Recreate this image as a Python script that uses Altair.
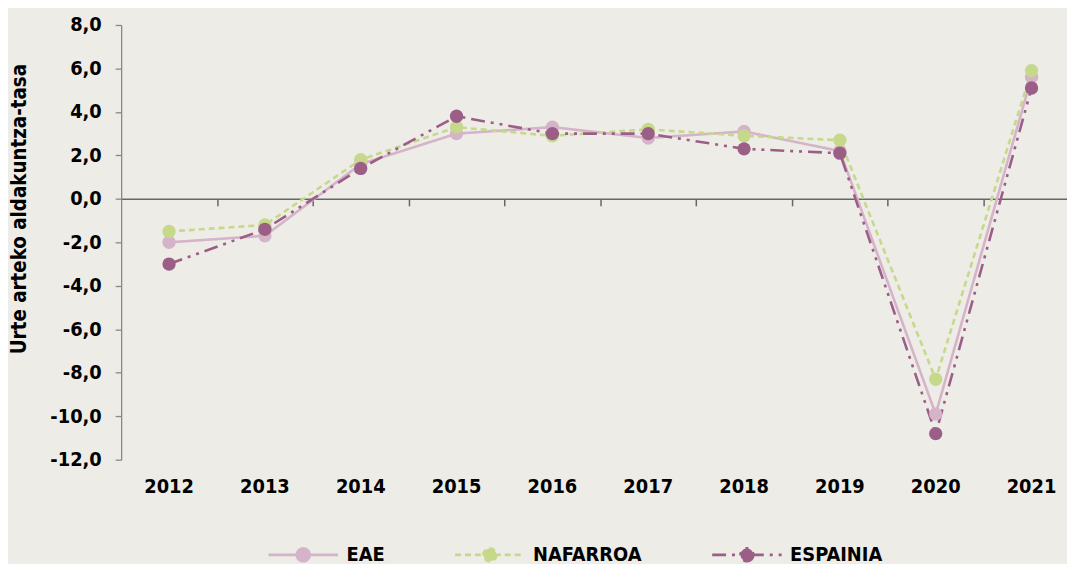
import altair as alt
import pandas as pd

years = [2012, 2013, 2014, 2015, 2016, 2017, 2018, 2019, 2020, 2021]
eae = [-2.0, -1.7, 1.6, 3.0, 3.3, 2.8, 3.1, 2.2, -9.9, 5.6]
nafarroa = [-1.5, -1.2, 1.8, 3.3, 2.9, 3.2, 2.9, 2.7, -8.3, 5.9]
espainia = [-3.0, -1.4, 1.4, 3.8, 3.0, 3.0, 2.3, 2.1, -10.8, 5.1]
series = ["EAE", "NAFARROA", "ESPAINIA"]
colors = ["#d5b3c8", "#c6d98b", "#9b5e86"]
dashes = [[1, 0], [6, 4], [14, 6, 3, 6, 3, 6]]
y_ticks = [-12, -10, -8, -6, -4, -2, 0, 2, 4, 6, 8]
x_ticks = [y + 0.5 for y in years[:-1]]
y_title = "Urte arteko aldakuntza-tasa"

rows = []
for name, vals in zip(series, [eae, nafarroa, espainia]):
    for yr, v in zip(years, vals):
        rows.append({"serie": name, "year": yr, "value": v})
df = pd.DataFrame(rows)
lab = pd.DataFrame({"year": years, "label": [str(y) for y in years]})

FONT = "'DejaVu Sans Condensed', 'DejaVu Sans', sans-serif"
SYM = "M-1,0H1M0.186,0A0.186,0.186,0,1,1,-0.186,0A0.186,0.186,0,1,1,0.186,0Z"

x_enc = alt.X(
    "year:Q",
    scale=alt.Scale(domain=[2011.5, 2021.37], nice=False, zero=False),
    axis=alt.Axis(
        values=x_ticks, labels=False, ticks=True, tickSize=7, tickWidth=1.5,
        tickColor="#666666", domain=True, domainColor="#666666", domainWidth=1.5,
        grid=False, title=None, offset=-262.8,
    ),
)
y_enc = alt.Y(
    "value:Q",
    scale=alt.Scale(domain=[-12, 8], nice=False, zero=False),
    axis=alt.Axis(
        values=y_ticks,
        labelExpr="(datum.value < 0 ? '-' : '') + replace(format(abs(datum.value), '.1f'), '.', ',')",
        title=y_title, titleFont=FONT, titleFontSize=20.5, titleFontWeight="bold",
        titleColor="#000000", titleAngle=270, titleX=-102, titleY=185,
        titleAlign="center", titleBaseline="middle",
        labelFont=FONT, labelFontSize=20, labelFontWeight="bold", labelColor="#000000",
        labelPadding=14, tickSize=6, tickColor="#888888", tickWidth=1.3,
        domainColor="#888888", domainWidth=1.3, grid=False,
    ),
)

base = alt.Chart(df)
lines = base.mark_line(strokeWidth=2.6).encode(
    x=x_enc, y=y_enc,
    stroke=alt.Stroke("serie:N", scale=alt.Scale(domain=series, range=colors), legend=alt.Legend(title=None)),
    strokeDash=alt.StrokeDash("serie:N", scale=alt.Scale(domain=series, range=dashes), legend=alt.Legend(title=None)),
)
points = base.mark_point(filled=True, size=180, opacity=1).encode(
    x=x_enc, y=y_enc,
    fill=alt.Fill("serie:N", scale=alt.Scale(domain=series, range=colors), legend=alt.Legend(title=None)),
)
texts = alt.Chart(lab).mark_text(
    font=FONT, fontSize=20, fontWeight="bold", color="#000000", baseline="middle"
).encode(x=x_enc, y=alt.value(465.5), text="label:N")

chart = alt.layer(lines, points, texts).properties(
    width=953, height=438,
    padding={"left": 114, "top": 15, "right": 0, "bottom": 103},
    autosize=alt.AutoSizeParams(type="none"),
    background="#edece7",
).configure_view(stroke=None).configure_legend(
    orient="none", legendX=147, legendY=497, direction="horizontal",
    symbolType=SYM, symbolSize=4900, symbolStrokeWidth=2.6,
    labelFont=FONT, labelFontSize=20, labelFontWeight="bold", labelColor="#000000",
    labelOffset=7, columnPadding=65, padding=0,
)

chart.save("out.html", embed_options={"renderer": "svg", "actions": False})
